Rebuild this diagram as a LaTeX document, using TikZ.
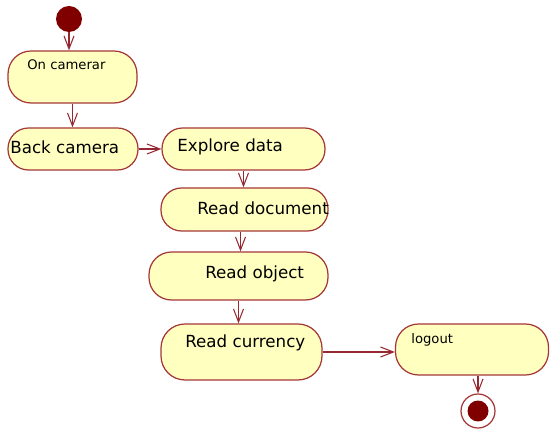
\documentclass[tikz,border=0pt]{standalone}
\usepackage{fontspec}
\setmainfont{DejaVu Sans}
\usetikzlibrary{arrows.meta,calc,positioning}
\definecolor{actfill}{RGB}{255,255,192}
\definecolor{actline}{RGB}{165,55,55}
\definecolor{flowline}{RGB}{150,40,50}
\definecolor{dotred}{RGB}{128,0,0}
\tikzset{
  activity/.style={draw=actline, fill=actfill, line width=0.7pt, rounded corners=0.41cm, inner sep=0pt},
  bigtxt/.style={font=\fontsize{9.5}{11}\selectfont, inner sep=0pt, anchor=west},
  smalltxt/.style={font=\fontsize{7.5}{9}\selectfont, inner sep=0pt, anchor=west},
  flow/.style={draw=flowline, line width=0.6pt, -{Straight Barb[length=2.6mm,width=2mm]}},
}

\begin{document}
\begin{tikzpicture}[x=0.02cm, y=-0.02cm]
    \useasboundingbox (0,0) rectangle (550,431);
    % initial and final states
    \node[circle, fill=dotred, minimum size=0.52cm, inner sep=0pt] (start) at (69,19) {};
    \node[circle, draw=actline, fill=white, line width=0.7pt, minimum size=0.68cm, inner sep=0pt] (finish) at (478,411) {};
    \node[circle, fill=dotred, minimum size=0.42cm, inner sep=0pt] (finishdot) at (finish) {};
    % activities
    \node[activity, rounded corners=0.46cm, minimum width=2.58cm, minimum height=1.04cm] (oncam) at (72.5,77) {};
    \node[activity, minimum width=2.6cm, minimum height=0.84cm] (back) at (73,149) {};
    \node[activity, minimum width=3.26cm, minimum height=0.84cm] (explore) at (243.5,149) {};
    \node[activity, minimum width=3.34cm, minimum height=0.86cm] (readdoc) at (244.5,209.5) {};
    \node[activity, rounded corners=0.45cm, minimum width=3.58cm, minimum height=0.96cm] (readobj) at (238.5,276) {};
    \node[activity, rounded corners=0.48cm, minimum width=3.22cm, minimum height=1.12cm] (readcur) at (241.5,352) {};
    \node[activity, rounded corners=0.46cm, minimum width=3.06cm, minimum height=1.02cm] (logout) at (472,349.5) {};
    % labels
    \node[smalltxt] (oncamtxt) at (27,65) {On camerar};
    \node[bigtxt] (backtxt) at (10,147) {Back camera};
    \node[bigtxt] (exploretxt) at (177,147) {Explore data};
    \node[bigtxt] (readdoctxt) at (197,208) {Read document};
    \node[bigtxt] (readobjtxt) at (205,274) {Read object};
    \node[bigtxt] (readcurtxt) at (185,343) {Read currency};
    \node[smalltxt] (logouttxt) at (411,340) {logout};
    % flows
    \draw[flow] (start) -- (start |- oncam.north);
    \draw[flow] (oncam.south) -- (oncam.south |- back.north);
    \draw[flow] (back.east) -- (explore.west);
    \draw[flow] (explore.south) -- (explore.south |- readdoc.north);
    \draw[flow] ($(readdoc.south)+(-4,0)$) -- ($(readdoc.south |- readobj.north)+(-4,0)$);
    \draw[flow] (readobj.south) -- (readobj.south |- readcur.north);
    \draw[flow] (readcur.east) -- (readcur.east -| logout.west);
    \draw[flow] (finish |- logout.south) -- (finish.north);
\end{tikzpicture}
\end{document}
